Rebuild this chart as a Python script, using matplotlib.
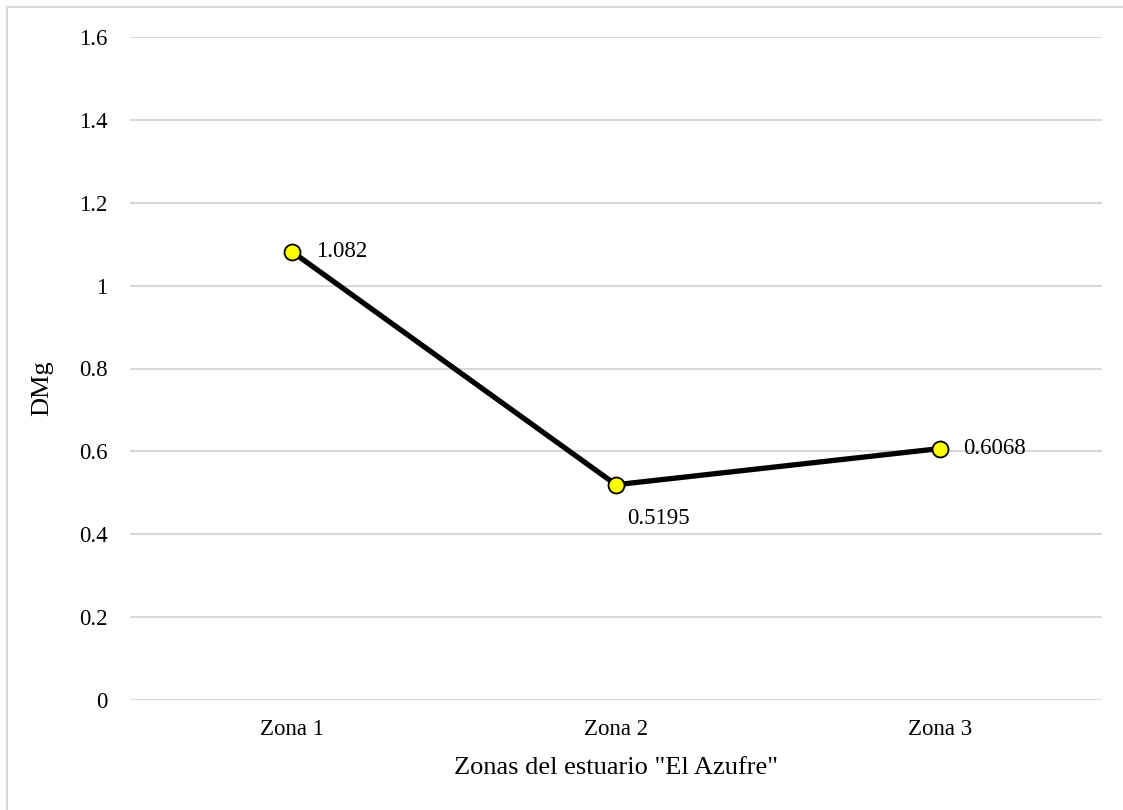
import matplotlib.pyplot as plt
from matplotlib.lines import Line2D

# DMg por zona
zonas = ["Zona 1", "Zona 2", "Zona 3"]
dmg = [1.082, 0.5195, 0.6068]
etiquetas = ["1.082", "0.5195", "0.6068"]
yticks = [0, 0.2, 0.4, 0.6, 0.8, 1.0, 1.2, 1.4, 1.6]
ytick_labels = ["0", "0.2", "0.4", "0.6", "0.8", "1", "1.2", "1.4", "1.6"]

plt.rcParams['font.family'] = ['Liberation Serif', 'DejaVu Serif']

fig = plt.figure(figsize=(11.23, 8.10), dpi=100)
ax = fig.add_axes([130 / 1123, 1 - 700 / 810, 972 / 1123, 663 / 810])

x = list(range(len(zonas)))
ax.plot(x, dmg, color='black', lw=3.8, marker='o', markersize=11.5,
        markerfacecolor='#ffff00', markeredgecolor='black', markeredgewidth=1.3,
        zorder=3, solid_capstyle='round')

# etiquetas de datos
offsets = [(17, 0, 'left', 'center'), (8, -24, 'left', 'center'), (17, 0, 'left', 'center')]
for xi, yi, txt, (dx, dy, ha, va) in zip(x, dmg, etiquetas, offsets):
    ax.annotate(txt, (xi, yi), xytext=(dx, dy), textcoords='offset points',
                ha=ha, va=va, fontsize=16.5)

ax.set_xlim(-0.5, 2.5)
ax.set_ylim(0, 1.6)
ax.set_yticks(yticks)
ax.set_yticklabels(ytick_labels)
ax.set_xticks(x)
ax.set_xticklabels(zonas)
ax.tick_params(axis='both', length=0, labelsize=16.5)
ax.tick_params(axis='y', pad=16)
ax.tick_params(axis='x', pad=14)

ax.grid(axis='y', color='#d9d9d9', lw=1.5)
ax.set_axisbelow(True)
for s in ax.spines.values():
    s.set_visible(False)

ax.set_xlabel('Zonas del estuario "El Azufre"', fontsize=19, labelpad=12)
ax.set_ylabel('DMg', fontsize=19)
ax.yaxis.set_label_coords(-0.079, 0.47)

# borde del gráfico (arriba e izquierda)
fig.add_artist(Line2D([7 / 1123, 7 / 1123], [0, 1 - 7 / 810], transform=fig.transFigure,
                      color='#d9d9d9', lw=1.5))
fig.add_artist(Line2D([7 / 1123, 1], [1 - 7 / 810, 1 - 7 / 810], transform=fig.transFigure,
                      color='#d9d9d9', lw=1.5))

fig.savefig('out.png', dpi=100)
